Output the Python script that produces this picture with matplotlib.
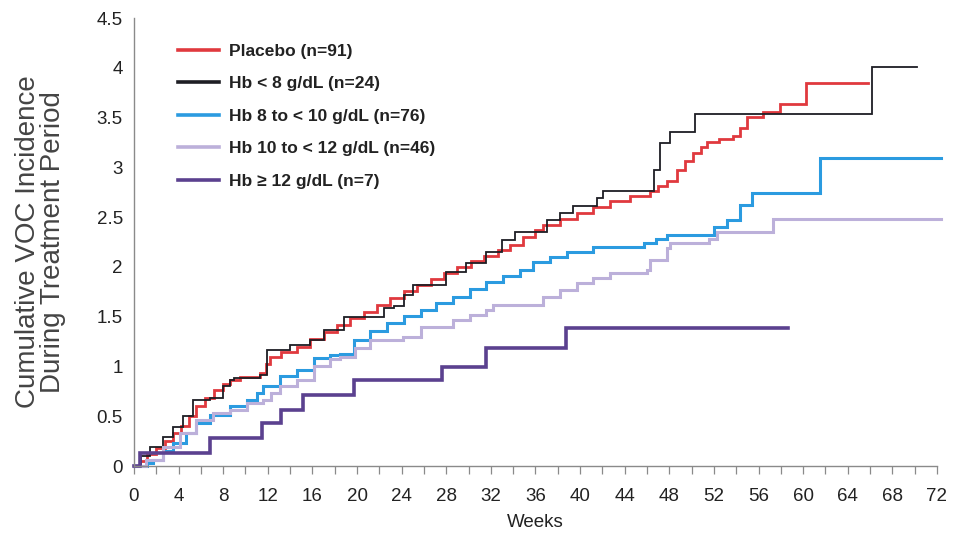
import matplotlib
matplotlib.use("Agg")
import matplotlib.pyplot as plt
from matplotlib import font_manager
from matplotlib.ticker import MultipleLocator, FuncFormatter

names = {f.name for f in font_manager.fontManager.ttflist}
NARROW = "Liberation Sans Narrow" if "Liberation Sans Narrow" in names else "Liberation Sans"
plt.rcParams['font.family'] = [NARROW, 'DejaVu Sans']

# ---- data (weeks, cumulative VOC incidence) ----
placebo_wk = [0, 0.5, 1.2, 2.0, 2.8, 3.5, 4.2, 4.9, 5.6, 6.4, 7.2, 8.0, 8.6, 9.5, 11.3, 11.8, 12.2,
              13.2, 14.6, 15.8, 17.0, 18.2, 19.4, 20.6, 21.8, 23.0, 24.2, 25.4, 26.6, 27.8, 29.0,
              30.2, 31.4, 32.6, 33.7, 34.9, 36.0, 36.7, 38.2, 39.7, 41.2, 42.7, 44.5, 46.3, 47.0,
              47.8, 48.7, 49.4, 50.1, 50.8, 51.4, 52.5, 53.7, 54.3, 55.0, 56.4, 57.9, 60.3, 65.8]
placebo_val = [0, 0.05, 0.12, 0.18, 0.25, 0.33, 0.40, 0.50, 0.60, 0.68, 0.76, 0.82, 0.86, 0.89, 0.93,
               1.02, 1.10, 1.15, 1.20, 1.28, 1.35, 1.42, 1.49, 1.55, 1.62, 1.69, 1.76, 1.82, 1.88,
               1.94, 2.00, 2.06, 2.11, 2.17, 2.22, 2.30, 2.37, 2.42, 2.48, 2.54, 2.60, 2.66, 2.71,
               2.76, 2.81, 2.86, 2.97, 3.06, 3.14, 3.20, 3.25, 3.28, 3.31, 3.40, 3.51, 3.56, 3.64,
               3.85, 3.85]

hb8_wk = [0, 0.6, 1.4, 2.6, 3.5, 4.4, 5.3, 6.8, 8.0, 8.6, 9.0, 11.3, 11.9, 14.0, 15.8, 17.0, 18.8,
          22.4, 23.3, 24.2, 25.0, 28.0, 29.8, 31.6, 33.0, 34.2, 37.0, 38.2, 39.4, 41.5, 42.1, 46.6,
          47.2, 48.1, 50.3, 66.2, 70.2]
hb8_val = [0, 0.10, 0.19, 0.29, 0.39, 0.50, 0.66, 0.68, 0.80, 0.86, 0.88, 0.91, 1.17, 1.22, 1.27,
           1.37, 1.50, 1.59, 1.61, 1.72, 1.82, 1.95, 2.04, 2.15, 2.27, 2.35, 2.47, 2.54, 2.61, 2.69,
           2.76, 2.97, 3.24, 3.36, 3.54, 4.01, 4.01]

hb8_10_wk = [0, 1.2, 1.7, 2.6, 3.5, 4.7, 5.6, 6.8, 8.6, 10.1, 11.0, 11.6, 13.1, 14.6, 16.1, 17.6,
             18.5, 19.7, 21.2, 22.7, 24.2, 25.7, 27.1, 28.6, 30.1, 31.6, 33.1, 34.6, 35.8, 37.3,
             38.8, 41.2, 45.7, 46.8, 47.8, 52.0, 53.2, 54.3, 55.4, 61.5, 72.4]
hb8_10_val = [0, 0.03, 0.06, 0.15, 0.23, 0.33, 0.43, 0.51, 0.60, 0.66, 0.73, 0.80, 0.90, 0.96,
              1.08, 1.12, 1.13, 1.27, 1.36, 1.44, 1.51, 1.57, 1.64, 1.70, 1.78, 1.85, 1.91, 1.97,
              2.05, 2.10, 2.15, 2.20, 2.24, 2.28, 2.32, 2.40, 2.47, 2.62, 2.74, 3.09, 3.09]

hb10_12_wk = [0, 1.1, 2.6, 4.1, 5.6, 7.1, 8.6, 10.1, 11.6, 12.3, 13.1, 14.6, 16.1, 17.6, 18.5,
              19.8, 21.2, 24.1, 25.7, 28.6, 30.1, 31.6, 32.2, 36.7, 38.2, 39.7, 41.2, 42.7, 46.0,
              46.3, 47.8, 48.1, 51.6, 52.3, 57.3, 72.4]
hb10_12_val = [0, 0.06, 0.19, 0.33, 0.46, 0.53, 0.56, 0.63, 0.66, 0.73, 0.80, 0.86, 1.00, 1.07,
               1.10, 1.19, 1.27, 1.30, 1.40, 1.47, 1.52, 1.57, 1.62, 1.70, 1.77, 1.84, 1.89, 1.94,
               1.97, 2.07, 2.19, 2.24, 2.28, 2.35, 2.48, 2.48]

hb12_wk = [0, 0.5, 6.8, 11.45, 13.2, 15.2, 19.7, 27.6, 31.6, 38.7, 58.6]
hb12_val = [0, 0.13, 0.28, 0.43, 0.56, 0.71, 0.86, 0.99, 1.19, 1.39, 1.39]

labels = ["Placebo (n=91)", "Hb < 8 g/dL (n=24)", "Hb 8 to < 10 g/dL (n=76)",
          "Hb 10 to < 12 g/dL (n=46)", "Hb \u2265 12 g/dL (n=7)"]
x_ticks = list(range(0, 73, 4))
y_ticks = [0, 0.5, 1, 1.5, 2, 2.5, 3, 3.5, 4, 4.5]

series = [
    (placebo_wk, placebo_val, "#e0393e", 2.0),
    (hb8_wk, hb8_val, "#1e1e24", 1.3),
    (hb8_10_wk, hb8_10_val, "#2b9be0", 2.2),
    (hb10_12_wk, hb10_12_val, "#bcb0da", 2.2),
    (hb12_wk, hb12_val, "#5b418f", 2.6),
]

fig = plt.figure(figsize=(9.59, 5.38), dpi=100)
ax = fig.add_axes([0.1397, 0.1338, 0.8373, 0.8327])

draw_order = [3, 2, 0, 1, 4]
lines = {}
for i in draw_order:
    wk, val, col, lw = series[i]
    ln, = ax.plot(wk, val, drawstyle="steps-post", color=col, lw=lw, clip_on=False,
                  solid_joinstyle="miter", zorder=2 + i * 0.1)
    lines[i] = ln

ax.set_xlim(0, 72)
ax.set_ylim(0, 4.5)
ax.set_xticks(x_ticks)
ax.xaxis.set_minor_locator(MultipleLocator(2))
ax.set_yticks(y_ticks)
ax.yaxis.set_major_formatter(FuncFormatter(lambda v, p: f"{v:g}"))

for s in ["top", "right"]:
    ax.spines[s].set_visible(False)
for s in ["left", "bottom"]:
    ax.spines[s].set_color("#8a8a8a")
    ax.spines[s].set_linewidth(1.0)

ax.tick_params(axis="x", which="both", direction="out", length=6, width=0.9, color="#8a8a8a",
               labelsize=13.5, pad=10, labelcolor="#222222")
ax.tick_params(axis="y", which="both", length=0, labelsize=13.5, pad=8, labelcolor="#222222")

ax.set_xlabel("Weeks", fontsize=13.5, color="#222222", labelpad=6)
ax.set_ylabel("Cumulative VOC Incidence\nDuring Treatment Period", fontsize=20,
              color="#444444", labelpad=22, linespacing=0.95)

handles = [lines[i] for i in range(5)]
leg = ax.legend(handles, labels, loc="upper left", bbox_to_anchor=(0.035, 0.978), frameon=False,
                handlelength=2.4, handletextpad=0.55, labelspacing=1.0,
                prop={"family": [NARROW, "DejaVu Sans"], "weight": "bold", "size": 12.5})
for t in leg.get_texts():
    t.set_color("#222222")
for h in leg.legend_handles:
    h.set_linewidth(2.6)

fig.savefig("out.png", dpi=100)
